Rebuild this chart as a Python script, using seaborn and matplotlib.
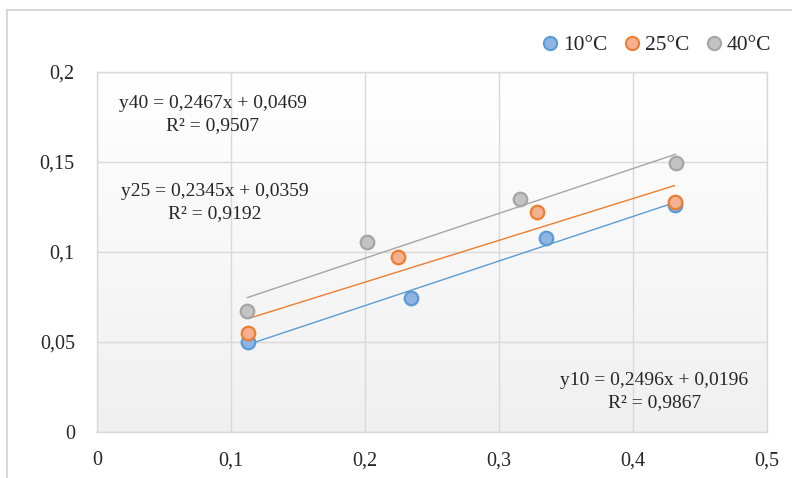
"""Trendlines at three temperatures, Excel-style look."""
import matplotlib
matplotlib.use("Agg")
import matplotlib.pyplot as plt
import numpy as np
import pandas as pd
import seaborn as sns
from matplotlib.lines import Line2D
from matplotlib.patches import Rectangle
from matplotlib.ticker import FuncFormatter

sns.set_style("white")
plt.rcParams["font.family"] = ["Liberation Serif", "DejaVu Serif"]
plt.rcParams["font.size"] = 14

# data
x10 = [0.113, 0.234, 0.335, 0.431]
y10 = [0.050, 0.0744, 0.108, 0.126]
x25 = [0.113, 0.225, 0.328, 0.431]
y25 = [0.055, 0.097, 0.122, 0.128]
x40 = [0.112, 0.2015, 0.316, 0.432]
y40 = [0.067, 0.1055, 0.1294, 0.1494]

series_names = ["10°C", "25°C", "40°C"]
equations = [
    "y10 = 0,2496x + 0,0196\nR² = 0,9867",
    "y25 = 0,2345x + 0,0359\nR² = 0,9192",
    "y40 = 0,2467x + 0,0469\nR² = 0,9507",
]
x_ticks = [0, 0.1, 0.2, 0.3, 0.4, 0.5]
y_ticks = [0, 0.05, 0.1, 0.15, 0.2]

df = pd.concat([
    pd.DataFrame({"x": x10, "y": y10, "T": series_names[0]}),
    pd.DataFrame({"x": x25, "y": y25, "T": series_names[1]}),
    pd.DataFrame({"x": x40, "y": y40, "T": series_names[2]}),
])

edge = {"10°C": "#5b9bd5", "25°C": "#ed7d31", "40°C": "#a5a5a5"}
face = {"10°C": "#8db4e2", "25°C": "#f4b090", "40°C": "#c3c3c3"}

fig = plt.figure(figsize=(7.92, 4.78), dpi=100)
ax = fig.add_axes([0.1225, 0.0962, 0.8459, 0.7532])

# soft gradient in the plot area
grad = np.linspace(0, 1, 256)[:, None]
ax.imshow(grad, extent=[0, 0.5, 0, 0.2], aspect="auto", origin="upper",
    cmap=matplotlib.colors.LinearSegmentedColormap.from_list(
        "bg", ["#ffffff", "#f0f0f0"]), zorder=0)

for name in series_names:
    sub = df[df["T"] == name]
    sns.regplot(data=sub, x="x", y="y", ax=ax, scatter=False, ci=None,
        truncate=True, line_kws=dict(color=edge[name], lw=1, zorder=2))
    ax.scatter(sub["x"], sub["y"], s=95, facecolor=face[name],
        edgecolor=edge[name], linewidth=1.6, zorder=3)

ax.set_xlim(0, 0.5)
ax.set_ylim(0, 0.2)
ax.set_xticks(x_ticks)
ax.set_yticks(y_ticks)
fmt = FuncFormatter(lambda v, p: f"{v:g}".replace(".", ","))
ax.xaxis.set_major_formatter(fmt)
ax.yaxis.set_major_formatter(fmt)
ax.tick_params(axis="both", length=0, labelsize=14.5)
ax.tick_params(axis="x", pad=14)
ax.tick_params(axis="y", pad=16)
ax.grid(True, color="#d9d9d9", lw=1, zorder=1)
ax.set_axisbelow(True)
for s in ax.spines.values():
    s.set_color("#d9d9d9")
    s.set_linewidth(1)
ax.set_xlabel("")
ax.set_ylabel("")

eq_kw = dict(ha="center", va="center", multialignment="center",
    fontsize=14, linespacing=1.4)
ax.text(0.0865, 0.1764, equations[2], **eq_kw)
ax.text(0.088, 0.1275, equations[1], **eq_kw)
ax.text(0.416, 0.0225, equations[0], **eq_kw)

handles = [Line2D([], [], marker="o", ls="none", markersize=9.5,
        markerfacecolor=face[n], markeredgecolor=edge[n],
        markeredgewidth=1.5, label=n) for n in series_names]
fig.legend(handles=handles, loc="center right",
    bbox_to_anchor=(0.985, 0.905), ncol=3, frameon=False, fontsize=15.5,
    handlelength=0.7, handletextpad=0.25, columnspacing=0.8,
    borderaxespad=0)

# outer chart frame
fig.patches.append(Rectangle((7 / 792, -0.05), 1.1, 1 - 10 / 478 + 0.05,
    transform=fig.transFigure, fill=False, edgecolor="#d9d9d9", lw=1.5))

fig.savefig("out.png", dpi=100)
